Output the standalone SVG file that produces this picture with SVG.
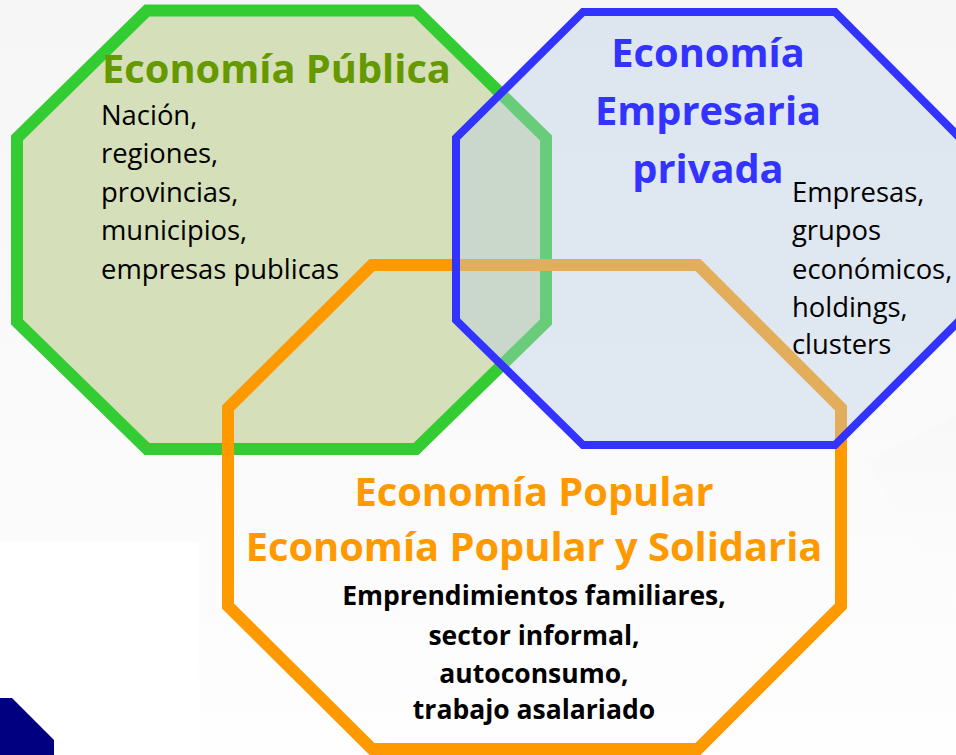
<svg xmlns="http://www.w3.org/2000/svg" width="956" height="755" viewBox="0 0 956 755">
<defs>
<linearGradient id="bg" x1="0" y1="0" x2="0" y2="1">
<stop offset="0" stop-color="#f6f6f6"/><stop offset="0.65" stop-color="#fbfbfb"/><stop offset="1" stop-color="#fefefe"/>
</linearGradient>
<linearGradient id="dia" x1="0" y1="0" x2="0" y2="1">
<stop offset="0" stop-color="#f8f8f8"/><stop offset="1" stop-color="#fdfdfd"/>
</linearGradient>
</defs>
<style>
.t{font-family:"Open Sans","Noto Sans",sans-serif;font-size:27.400px;fill:#000}
.h{font-family:"Open Sans","Noto Sans",sans-serif;font-size:39.800px;font-weight:700}
.b{font-family:"Open Sans","Noto Sans",sans-serif;font-size:26.500px;font-weight:700;fill:#000;text-anchor:middle}
.m{text-anchor:middle}
</style>
<rect width="956" height="755" fill="url(#bg)"/>
<path d="M868 462L956 415V610Z" fill="url(#dia)"/>
<rect x="0" y="542" width="199" height="213" fill="#fff"/>
<path d="M0 698H12L54 740V755H0Z" fill="#000080"/>
<g id="node-publica">
<path d="M147 10.500H416L546 138V322L416 449H147L17 322V138Z" fill="#d5dfb9" stroke="#33cc33" stroke-width="12"/>
<text class="h" x="102" y="83" fill="#669900">Economía Pública</text>
<text class="t" x="101" y="125">Nación,</text>
<text class="t" x="101" y="163">regiones,</text>
<text class="t" x="101" y="202">provincias,</text>
<text class="t" x="101" y="240">municipios,</text>
<text class="t" x="101" y="279">empresas publicas</text>
</g>
<g id="node-popular">
<path d="M372 265H698L841 408V606L698 749H372L228 606V408Z" fill="none" stroke="#ff9900" stroke-width="12"/>
<text class="h m" x="534" y="506" fill="#ff9900">Economía Popular</text>
<text class="h m" x="534" y="561" fill="#ff9900">Economía Popular y Solidaria</text>
<text class="b" x="534" y="605">Emprendimientos familiares,</text>
<text class="b" x="534" y="645">sector informal,</text>
<text class="b" x="534" y="683">autoconsumo,</text>
<text class="b" x="534" y="719">trabajo asalariado</text>
</g>
<g id="node-empresaria">
<path d="M583 12H835L960 138V320L835 445H583L456 320V138Z" fill="#b9cde6" fill-opacity="0.4" stroke="#3333ff" stroke-width="8"/>
<text class="h m" x="708" y="67" fill="#3333ff">Economía</text>
<text class="h m" x="708" y="125" fill="#3333ff">Empresaria</text>
<text class="h m" x="708" y="183" fill="#3333ff">privada</text>
<text class="t" x="792" y="202">Empresas,</text>
<text class="t" x="792" y="240">grupos</text>
<text class="t" x="792" y="279">económicos,</text>
<text class="t" x="792" y="317">holdings,</text>
<text class="t" x="792" y="354">clusters</text>
</g>
<g id="connectors"></g>
</svg>
